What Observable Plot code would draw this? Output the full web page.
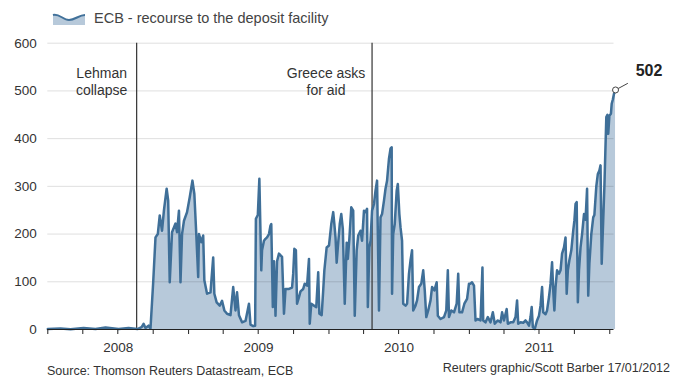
<!DOCTYPE html>
<html><head><meta charset="utf-8">
<script src="https://cdn.jsdelivr.net/npm/d3@7"></script>
<script src="https://cdn.jsdelivr.net/npm/@observablehq/plot@0.6"></script>
<style>
body{margin:0;background:#fff;font-family:"Liberation Sans",Arial,sans-serif;}
#wrap{position:relative;width:674px;height:381px;overflow:hidden;background:#fff;}
#legend{position:absolute;left:52px;top:8px;height:20px;display:flex;align-items:center;font-size:14.5px;color:#444;}
#legend svg{margin-right:8px;}
#chart{position:absolute;left:0;top:30px;}
#source{position:absolute;left:47px;top:364px;font-size:12.5px;color:#333;white-space:nowrap;}
#credit{position:absolute;right:4px;top:361px;font-size:12.5px;color:#333;white-space:nowrap;}
</style></head>
<body><div id="wrap">
<div id="legend"><svg width="34" height="14"><path d="M1,4 C7,2 11,9 17,9 C23,9 27,4 33,4 L33,14 L1,14 Z" fill="#b7c9da"/><path d="M1,4 C7,2 11,9 17,9 C23,9 27,4 33,4" fill="none" stroke="#41719a" stroke-width="2"/></svg><span>ECB - recourse to the deposit facility</span></div>
<div id="chart"></div>
<div id="source">Source: Thomson Reuters Datastream, ECB</div>
<div id="credit">Reuters graphic/Scott Barber 17/01/2012</div>
</div>
<script>
const dates = [
"2008-01-01","2008-02-03","2008-02-29","2008-04-03","2008-05-04","2008-05-30","2008-07-03","2008-07-29","2008-08-21","2008-09-01","2008-09-06","2008-09-11","2008-09-19","2008-09-24","2008-10-01","2008-10-07","2008-10-13","2008-10-18","2008-10-24","2008-10-29","2008-11-05","2008-11-09","2008-11-13","2008-11-19","2008-11-28","2008-12-02","2008-12-07","2008-12-11","2008-12-15","2008-12-20","2008-12-28",
"2009-01-04","2009-01-11","2009-01-16","2009-01-21","2009-01-26","2009-01-28","2009-02-03","2009-02-08","2009-02-11","2009-02-18","2009-02-27","2009-03-06","2009-03-09","2009-03-15","2009-03-23","2009-03-29","2009-04-04","2009-04-11","2009-04-20","2009-04-27","2009-05-03","2009-05-07","2009-05-12","2009-05-20","2009-05-29","2009-06-07","2009-06-11","2009-06-18","2009-06-23","2009-06-25","2009-06-30","2009-07-04","2009-07-09","2009-07-11","2009-07-16","2009-07-20","2009-07-24","2009-07-29","2009-08-02","2009-08-04","2009-08-08","2009-08-11","2009-08-15","2009-08-19","2009-08-24","2009-09-01","2009-09-06","2009-09-10","2009-09-19","2009-09-27","2009-09-30","2009-10-03","2009-10-07","2009-10-10","2009-10-15","2009-10-19","2009-10-26","2009-10-30","2009-11-05","2009-11-10","2009-11-12","2009-11-16","2009-11-23","2009-11-29","2009-12-04","2009-12-07","2009-12-13","2009-12-17","2009-12-20","2009-12-26",
"2010-01-01","2010-01-07","2010-01-12","2010-01-15","2010-01-18","2010-01-21","2010-01-24","2010-01-29","2010-02-02","2010-02-06","2010-02-11","2010-02-16","2010-02-19","2010-02-23","2010-02-28","2010-03-05","2010-03-09","2010-03-14","2010-03-18","2010-03-24","2010-03-28","2010-04-02","2010-04-06","2010-04-10","2010-04-12","2010-04-16","2010-04-19","2010-04-23","2010-04-28","2010-05-02","2010-05-06","2010-05-11","2010-05-15","2010-05-19","2010-05-24","2010-05-28","2010-06-01","2010-06-06","2010-06-10","2010-06-13","2010-06-14","2010-06-17","2010-06-21","2010-06-26","2010-06-29","2010-07-03","2010-07-06","2010-07-10","2010-07-13","2010-07-19","2010-07-23","2010-07-28","2010-08-01","2010-08-05","2010-08-08","2010-08-14","2010-08-18","2010-08-23","2010-08-29","2010-09-03","2010-09-07","2010-09-11","2010-09-16","2010-09-22","2010-09-26","2010-10-02","2010-10-08","2010-10-11","2010-10-18","2010-10-27","2010-11-02","2010-11-06","2010-11-09","2010-11-15","2010-11-22","2010-11-29","2010-12-03","2010-12-06","2010-12-13","2010-12-19","2010-12-26","2010-12-31",
"2011-01-04","2011-01-08","2011-01-13","2011-01-17","2011-01-22","2011-01-30","2011-02-04","2011-02-06","2011-02-12","2011-02-18","2011-02-25","2011-03-03","2011-03-08","2011-03-16","2011-03-23","2011-03-27","2011-04-01","2011-04-08","2011-04-11","2011-04-18","2011-04-25","2011-05-01","2011-05-05","2011-05-08","2011-05-14","2011-05-21","2011-05-27","2011-05-31","2011-06-05","2011-06-09","2011-06-12","2011-06-15","2011-06-20","2011-06-26","2011-07-01","2011-07-05","2011-07-09","2011-07-12","2011-07-18","2011-07-22","2011-07-27","2011-07-31","2011-08-04","2011-08-07","2011-08-10","2011-08-13","2011-08-17","2011-08-22","2011-08-26","2011-08-30","2011-09-04","2011-09-08","2011-09-11","2011-09-14","2011-09-18","2011-09-23","2011-09-28","2011-10-01","2011-10-04","2011-10-07","2011-10-10","2011-10-13","2011-10-17","2011-10-21","2011-10-26","2011-10-30","2011-11-03","2011-11-06","2011-11-09","2011-11-14","2011-11-19","2011-11-22","2011-11-27","2011-12-01","2011-12-05","2011-12-08","2011-12-11","2011-12-15","2011-12-18","2011-12-23","2011-12-26","2011-12-28","2011-12-31",
"2012-01-04","2012-01-06","2012-01-09","2012-01-12","2012-01-16"];
const values = [
1,2,0.5,3,1,4,1,3,1,5,12,3,8,2,99,193,200,239,207,250,295,270,99,204,222,204,249,99,200,228,246,
277,312,284,200,110,200,183,197,103,75,78,151,75,57,50,60,40,33,30,89,40,78,30,15,18,54,10,7,8,232,240,316,124,166,186,190,193,200,218,221,47,143,29,143,159,152,33,85,85,88,117,169,166,54,68,80,85,96,92,148,12,54,50,47,120,33,30,82,124,172,
176,221,246,221,193,140,172,221,242,211,54,182,148,190,256,249,29,166,197,207,186,249,246,253,47,172,186,249,263,291,312,40,235,242,270,295,312,358,379,382,75,200,221,291,305,242,214,186,54,50,54,117,145,166,40,50,61,89,96,124,82,26,40,61,89,82,99,29,22,26,40,124,26,40,36,54,117,36,36,54,64,96,
96,99,92,19,22,19,130,19,15,26,15,36,12,19,15,36,19,43,12,15,15,26,61,12,15,14,19,15,8,26,47,5,1,19,29,50,89,36,32,40,68,96,141,82,40,89,124,117,124,159,172,193,75,124,145,166,207,228,263,267,57,124,172,200,242,230,295,71,138,200,235,240,300,326,333,344,138,230,300,445,450,410,448,
452,473,482,494,502];
const yTicks = [0,100,200,300,400,500,600];
const yearLabels = ["2008","2009","2010","2011"];
const eventDates = ["2008-08-19","2010-04-23"];
const eventLabels = ["Lehman\ncollapse","Greece asks\nfor aid"];

const data = dates.map((d,i)=>({date:new Date(d), value:values[i]}));
const events = eventDates.map((d,i)=>({date:new Date(d), label:eventLabels[i]}));
const last = data[data.length-1];
const leader = [{x1:last.date, y1:last.value, x2:d3.utcDay.offset(last.date,32), y2:last.value+14}];
const quarterTicks = d3.utcMonth.every(3).range(new Date("2008-01-01"), new Date("2012-01-02"));
const yearMid = yearLabels.map(y=>new Date(`${y}-07-02`));

const chart = Plot.plot({
  width:674, height:330,
  marginTop:12.7, marginBottom:31, marginLeft:47.3, marginRight:60.5,
  x:{type:"utc", domain:[new Date("2008-01-01"), new Date("2012-01-12")]},
  y:{domain:[0,600]},
  style:{fontFamily:"'Liberation Sans', Arial, sans-serif", fontSize:"13.5px", color:"#333", background:"transparent", overflow:"visible"},
  marks:[
    Plot.areaY(data,{x:"date", y:"value", fill:"#b7c9da"}),
    Plot.gridY(yTicks.filter(t=>t>0),{stroke:"#000", strokeOpacity:0.13, strokeWidth:1}),
    Plot.ruleX(events,{x:"date", stroke:"#333", strokeWidth:1.2}),
    Plot.lineY(data,{x:"date", y:"value", stroke:"#3f6f98", strokeWidth:2.5, strokeLinejoin:"round"}),
    Plot.ruleY([0],{stroke:"#222", strokeWidth:1}),
    Plot.axisX(quarterTicks,{tickSize:5, tickFormat:()=>"", stroke:"#222"}),
    Plot.axisX(yearMid,{tickSize:0, tickPadding:13, tickFormat:d3.utcFormat("%Y"), fontSize:13.5, fill:"#333"}),
    Plot.axisY(yTicks,{tickSize:0, tickPadding:11, fontSize:13.5, fill:"#333"}),
    Plot.text([events[0]],{x:"date", text:"label", frameAnchor:"top", lineAnchor:"top", textAnchor:"middle", dx:-35, dy:22, lineHeight:1.25, fontSize:14, fill:"#333"}),
    Plot.text([events[1]],{x:"date", text:"label", frameAnchor:"top", lineAnchor:"top", textAnchor:"middle", dx:-46, dy:22, lineHeight:1.25, fontSize:14, fill:"#333"}),
    Plot.link(leader,{x1:"x1", y1:"y1", x2:"x2", y2:"y2", stroke:"#444", strokeWidth:1}),
    Plot.dot([last],{x:"date", y:"value", r:3, fill:"white", stroke:"#444", strokeWidth:1}),
    Plot.text([last],{x:"date", y:"value", text:d=>String(d.value), dx:33.5, dy:-19, fontSize:16, fontWeight:"bold", fill:"#222"})
  ]
});
document.getElementById("chart").appendChild(chart);
</script>
</body></html>
